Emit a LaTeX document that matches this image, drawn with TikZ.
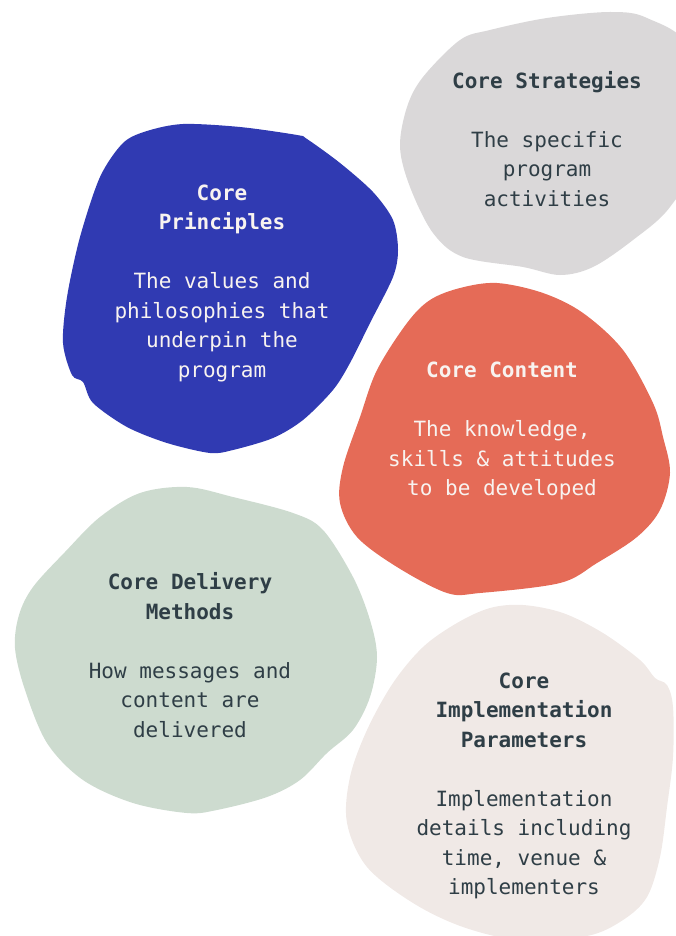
\documentclass[tikz,border=0pt]{standalone}
\usepackage{fontspec}
\newfontfamily\blobfont{DejaVu Sans Mono}
\usetikzlibrary{positioning}

\definecolor{principleblue}{HTML}{303AB2}
\definecolor{strategygrey}{HTML}{DAD8D9}
\definecolor{contentorange}{HTML}{E56B57}
\definecolor{deliverygreen}{HTML}{CDDBCF}
\definecolor{paramspink}{HTML}{F0E9E6}
\definecolor{slate}{HTML}{2F3E46}
\definecolor{offwhite}{HTML}{F8F3F0}

\begin{document}
\begin{tikzpicture}[x=1pt, y=-1pt,
    blobtext/.style={align=center, inner sep=0pt, font=\blobfont\fontsize{21}{29.5}\selectfont},
    darktext/.style={blobtext, text=slate},
    lighttext/.style={blobtext, text=offwhite}]
    \useasboundingbox (0,0) rectangle (676,936);
    \clip (0,0) rectangle (676,936);

    % Core Strategies (grey blob, top right)
    \fill[strategygrey] plot[smooth cycle, tension=0.55] coordinates {
        (610,12) (647,18) (690,50) (700,150) (670,207) (633,240) (593,267) (560,275)
        (523,267) (463,257) (433,233) (410,187) (400,147) (407,107) (423,77) (460,40)
        (490,30) (547,18)
    };
    \node[darktext] (strategies) at (547,139) {\textbf{Core Strategies}\\[29.5pt]The specific\\program\\activities};

    % Core Principles (blue blob)
    \fill[principleblue] plot[smooth cycle, tension=0.5] coordinates {
        (183,124) (240,127) (297,135) (307,139) (340,163) (373,192) (393,220) (398,250)
        (393,277) (370,323) (350,363) (333,390) (303,420) (273,438) (233,450) (210,453)
        (167,443) (127,427) (93,403) (83,382) (72,375) (63,343) (67,297) (80,237)
        (100,177) (123,143) (147,131)
    };
    \node[lighttext] (principles) at (222,283) {\textbf{Core}\\\textbf{Principles}\\[29.5pt]The values and\\philosophies that\\underpin the\\program};

    % Core Content (orange blob)
    \fill[contentorange] plot[smooth cycle, tension=0.55] coordinates {
        (497,283) (543,293) (583,313) (623,350) (653,403) (663,437) (670,473) (660,510)
        (637,537) (597,563) (560,583) (480,593) (447,593) (397,567) (357,537) (340,503)
        (343,467) (360,417) (377,370) (407,323) (430,300) (460,288)
    };
    \node[lighttext] (content) at (502,431) {\textbf{Core Content}\\[29.5pt]The knowledge,\\skills \& attitudes\\to be developed};

    % Core Delivery Methods (green blob)
    \fill[deliverygreen] plot[smooth cycle, tension=0.55] coordinates {
        (187,487) (233,497) (293,513) (323,530) (353,577) (370,620) (377,657) (370,697)
        (353,730) (327,753) (300,780) (267,797) (217,810) (187,813) (133,803) (83,780)
        (47,743) (25,690) (15,648) (19,615) (33,587) (65,552) (100,517) (140,493)
    };
    \node[darktext] (delivery) at (190,655) {\textbf{Core Delivery}\\\textbf{Methods}\\[29.5pt]How messages and\\content are\\delivered};

    % Core Implementation Parameters (pink blob)
    \fill[paramspink] plot[smooth cycle, tension=0.55] coordinates {
        (523,605) (563,613) (603,633) (640,660) (655,678) (667,685) (673,707) (673,757)
        (667,807) (660,857) (647,897) (623,920) (587,936) (520,940) (463,927) (413,903)
        (367,867) (347,823) (350,777) (367,730) (393,683) (423,647) (457,623) (490,608)
    };
    \node[darktext] (params) at (524,786) {\textbf{Core}\\\textbf{Implementation}\\\textbf{Parameters}\\[29.5pt]Implementation\\details including\\time, venue \&\\implementers};
\end{tikzpicture}
\end{document}
